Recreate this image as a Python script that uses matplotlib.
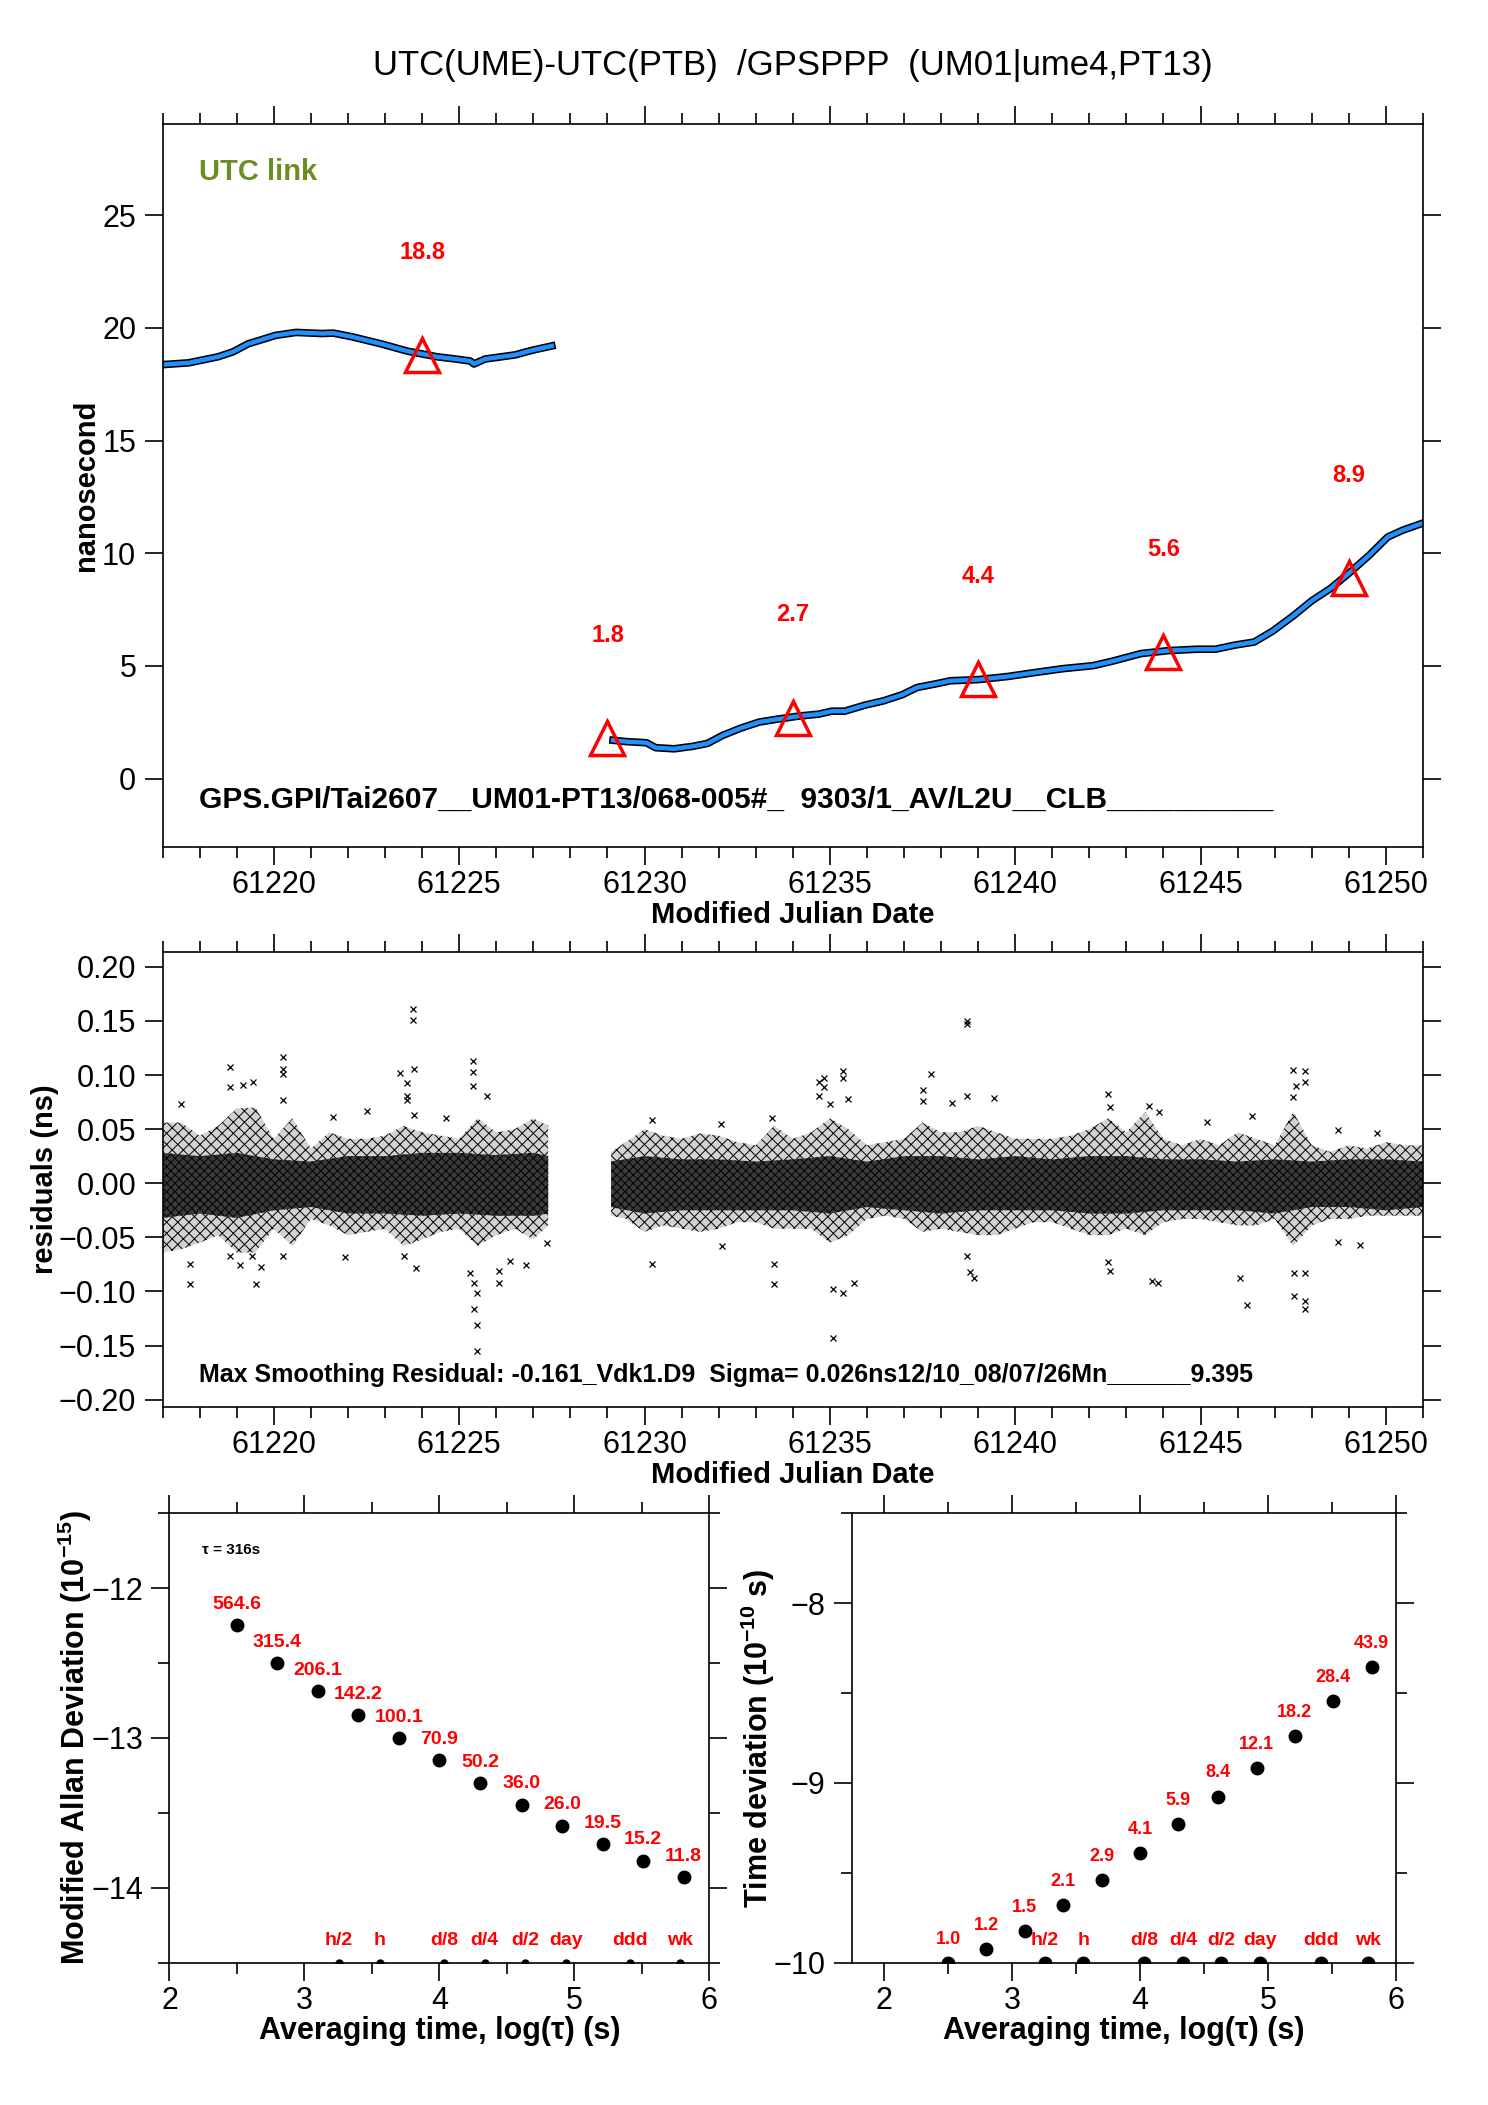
import numpy as np
import matplotlib
matplotlib.use("Agg")
import matplotlib.pyplot as plt
from matplotlib.ticker import MultipleLocator, FuncFormatter

plt.rcParams["font.family"] = ["Liberation Sans", "DejaVu Sans"]
plt.rcParams["mathtext.fontset"] = "custom"
plt.rcParams["mathtext.rm"] = "Liberation Sans"
plt.rcParams["mathtext.bf"] = "Liberation Sans:bold"
plt.rcParams["hatch.linewidth"] = 0.7

# --- top panel: UTC(UME)-UTC(PTB), ns
seg1_mjd = [61217.0, 61217.7, 61218.5, 61218.9, 61219.3, 61220.05, 61220.6, 61221.3, 61221.6,
            61222.1, 61222.9, 61223.6, 61224.4, 61224.9, 61225.3, 61225.4, 61225.7, 61226.5,
            61227.0, 61227.5]
seg1_ns = [18.37, 18.45, 18.72, 18.94, 19.29, 19.67, 19.80, 19.75, 19.77, 19.61, 19.29, 18.97,
           18.72, 18.62, 18.53, 18.40, 18.62, 18.80, 19.02, 19.20]
seg2_mjd = [61229.15, 61229.5, 61230.05, 61230.3, 61230.8, 61231.3, 61231.7, 61232.1, 61232.6,
            61233.1, 61233.6, 61234.15, 61234.7, 61235.05, 61235.4, 61235.95, 61236.45, 61236.95,
            61237.35, 61237.85, 61238.25, 61239.0, 61239.8, 61240.55, 61241.3, 61242.1, 61242.6,
            61243.4, 61244.15, 61244.9, 61245.4, 61245.95, 61246.45, 61246.95, 61247.5, 61248.0,
            61248.5, 61249.0, 61249.55, 61250.05, 61250.45, 61251.0]
seg2_ns = [1.70, 1.64, 1.59, 1.37, 1.32, 1.43, 1.56, 1.91, 2.24, 2.51, 2.64, 2.77, 2.86, 2.99,
           2.99, 3.26, 3.45, 3.72, 4.04, 4.20, 4.34, 4.39, 4.53, 4.71, 4.88, 5.01, 5.20, 5.55,
           5.68, 5.74, 5.74, 5.93, 6.06, 6.55, 7.22, 7.89, 8.43, 9.11, 9.91, 10.72, 11.02, 11.34]
tri_mjd = [61224, 61229, 61234, 61239, 61244, 61249]
tri_ns = [18.8, 1.8, 2.7, 4.4, 5.6, 8.9]

# --- middle panel: residuals (ns), envelope of the dense cloud + outlying points
res1_x = [61217.0, 61217.5, 61218.0, 61218.5, 61219.0, 61219.5, 61220.0, 61220.5, 61221.0,
          61221.5, 61222.0, 61222.5, 61223.0, 61223.5, 61224.0, 61224.5, 61225.0, 61225.5,
          61226.0, 61226.5, 61227.0, 61227.4]
res1_hi = [0.056, 0.056, 0.044, 0.053, 0.069, 0.070, 0.041, 0.060, 0.032, 0.047, 0.041, 0.041,
           0.044, 0.053, 0.047, 0.044, 0.041, 0.060, 0.047, 0.050, 0.060, 0.053]
res1_lo = [-0.064, -0.061, -0.055, -0.048, -0.064, -0.064, -0.042, -0.058, -0.033, -0.039,
           -0.048, -0.045, -0.042, -0.058, -0.052, -0.045, -0.042, -0.058, -0.048, -0.042,
           -0.052, -0.039]
res2_x = [61229.1, 61229.5, 61230.0, 61230.5, 61231.0, 61231.5, 61232.0, 61232.5, 61233.0,
          61233.5, 61234.0, 61234.5, 61235.0, 61235.5, 61236.0, 61236.5, 61237.0, 61237.5,
          61238.0, 61238.5, 61239.0, 61239.5, 61240.0, 61240.5, 61241.0, 61241.5, 61242.0,
          61242.5, 61243.0, 61243.5, 61244.0, 61244.5, 61245.0, 61245.5, 61246.0, 61246.5,
          61247.0, 61247.5, 61248.0, 61248.5, 61249.0, 61249.5, 61250.0, 61250.5, 61251.0]
res2_hi = [0.029, 0.038, 0.050, 0.044, 0.041, 0.046, 0.044, 0.038, 0.035, 0.053, 0.041, 0.047,
           0.060, 0.050, 0.035, 0.038, 0.041, 0.056, 0.047, 0.047, 0.053, 0.047, 0.041, 0.041,
           0.041, 0.044, 0.050, 0.060, 0.047, 0.066, 0.041, 0.035, 0.041, 0.035, 0.047, 0.041,
           0.035, 0.066, 0.035, 0.029, 0.035, 0.032, 0.038, 0.035, 0.035]
res2_lo = [-0.030, -0.033, -0.045, -0.039, -0.042, -0.045, -0.042, -0.036, -0.036, -0.042,
           -0.042, -0.042, -0.055, -0.048, -0.033, -0.030, -0.033, -0.045, -0.042, -0.045,
           -0.048, -0.048, -0.042, -0.036, -0.036, -0.042, -0.048, -0.048, -0.042, -0.048,
           -0.036, -0.033, -0.033, -0.036, -0.039, -0.039, -0.033, -0.058, -0.039, -0.033,
           -0.033, -0.030, -0.030, -0.030, -0.030]
core1_x = [61217.0, 61218.0, 61219.0, 61220.0, 61221.0, 61222.0, 61223.0, 61224.0, 61225.0,
           61226.0, 61227.0, 61227.4]
core1_hi = [0.028, 0.025, 0.028, 0.022, 0.020, 0.025, 0.025, 0.028, 0.028, 0.026, 0.028, 0.025]
core1_lo = [-0.032, -0.028, -0.032, -0.025, -0.022, -0.028, -0.028, -0.030, -0.028, -0.030,
            -0.030, -0.028]
core2_x = [61229.1, 61230, 61231, 61232, 61233, 61234, 61235, 61236, 61237, 61238, 61239, 61240,
           61241, 61242, 61243, 61244, 61245, 61246, 61247, 61248, 61249, 61250, 61251]
core2_hi = [0.020, 0.025, 0.022, 0.022, 0.020, 0.022, 0.025, 0.020, 0.025, 0.025, 0.022, 0.025,
            0.022, 0.025, 0.025, 0.022, 0.022, 0.020, 0.022, 0.020, 0.022, 0.022, 0.020]
core2_lo = [-0.022, -0.028, -0.025, -0.025, -0.025, -0.025, -0.028, -0.022, -0.025, -0.028,
            -0.025, -0.025, -0.025, -0.028, -0.028, -0.025, -0.025, -0.025, -0.028, -0.022,
            -0.022, -0.025, -0.022]
out_x = [61223.75, 61223.75, 61220.25, 61220.25, 61220.25, 61218.83, 61218.83, 61219.17, 61219.45,
         61217.49, 61223.39, 61223.77, 61223.6, 61223.6, 61223.6, 61225.36, 61225.36, 61225.38,
         61225.75, 61220.25, 61222.52, 61224.64, 61223.77, 61221.6,
         61217.75, 61219.53, 61219.09, 61219.65, 61217.75, 61225.39, 61225.49, 61225.49, 61225.49,
         61225.39, 61225.3, 61226.07, 61226.07, 61226.38, 61226.8, 61223.83, 61223.5, 61221.92,
         61220.25, 61218.83, 61219.4, 61227.38,
         61230.2, 61233.5, 61233.5, 61232.1, 61230.2, 61232.05, 61233.45, 61234.72, 61234.72,
         61235.08, 61235.08, 61235.36, 61235.65, 61234.85, 61234.85, 61235.36, 61235.36, 61235.48,
         61235.0, 61238.69, 61238.69, 61237.72, 61237.5, 61237.5, 61238.69, 61239.43, 61238.3,
         61238.77, 61238.88, 61238.69, 61242.49, 61242.55, 61243.6, 61243.88, 61242.57, 61242.49,
         61243.68, 61243.85, 61246.07, 61246.26, 61245.18, 61246.4, 61247.49, 61247.82, 61247.57,
         61247.82, 61247.49, 61247.53, 61247.82, 61247.82, 61247.53, 61247.82, 61248.7, 61249.3,
         61248.7, 61249.75]
out_v = [0.161, 0.151, 0.117, 0.106, 0.101, 0.107, 0.089, 0.091, 0.094,
         0.073, 0.102, 0.106, 0.093, 0.081, 0.077, 0.113, 0.103, 0.090,
         0.081, 0.077, 0.067, 0.060, 0.063, 0.061,
         -0.093, -0.093, -0.076, -0.077, -0.075, -0.116, -0.131, -0.155, -0.101,
         -0.092, -0.083, -0.092, -0.081, -0.072, -0.076, -0.078, -0.067, -0.068,
         -0.067, -0.067, -0.067, -0.055,
         -0.075, -0.093, -0.075, -0.058, 0.058, 0.055, 0.060, 0.094, 0.081,
         -0.1435, -0.098, -0.101, -0.092, 0.097, 0.089, 0.104, 0.097, 0.078,
         0.073, 0.1475, 0.150, 0.101, 0.086, 0.076, 0.081, 0.079, 0.074,
         -0.082, -0.088, -0.067, 0.082, 0.070, 0.071, 0.066, -0.081, -0.073,
         -0.090, -0.092, -0.088, -0.113, 0.057, 0.062, 0.105, 0.104, 0.090,
         0.094, 0.080, -0.104, -0.116, -0.109, -0.083, -0.083, -0.054, -0.057,
         0.049, 0.046]

# --- bottom panels: stability, log10(tau) in s
log_tau = [2.50, 2.80, 3.10, 3.40, 3.70, 4.00, 4.30, 4.61, 4.91, 5.21, 5.51, 5.81]
mdev_1e15 = [564.6, 315.4, 206.1, 142.2, 100.1, 70.9, 50.2, 36.0, 26.0, 19.5, 15.2, 11.8]
tdev_1e10 = [1.0, 1.2, 1.5, 2.1, 2.9, 4.1, 5.9, 8.4, 12.1, 18.2, 28.4, 43.9]
mark_names = ["h/2", "h", "d/8", "d/4", "d/2", "day", "ddd", "wk"]
mark_tau_s = [1800, 3600, 10800, 21600, 43200, 86400, 259200, 604800]

RED = "red"
fig = plt.figure(figsize=(14.88, 21.05), dpi=100)
ax1 = fig.add_axes([0.1093, 0.5976, 0.8470, 0.3436])
ax2 = fig.add_axes([0.1093, 0.3316, 0.8470, 0.2161])
ax3 = fig.add_axes([0.1139, 0.0675, 0.3628, 0.2137])
ax4 = fig.add_axes([0.5726, 0.0675, 0.3656, 0.2137])


def style(ax):
    for s in ax.spines.values():
        s.set_linewidth(1.2)
    ax.tick_params(which="both", direction="out", top=True, right=True, width=1.2,
                   labelsize=22, pad=6)
    ax.tick_params(axis="x", which="both", pad=3.5)
    ax.tick_params(which="major", length=13)
    ax.tick_params(which="minor", length=8)


minus = FuncFormatter(lambda v, p: ("%.2f" % v).replace("-", "\u2212") if abs(v) > 1e-9 else "0.00")

# top
for xs, ys in [(seg1_mjd, seg1_ns), (seg2_mjd, seg2_ns)]:
    ax1.plot(xs, ys, color="black", lw=5.5)
    ax1.plot(xs, ys, color="#1e90ff", lw=3.2)
ax1.plot(tri_mjd, tri_ns, "^", ms=25, mfc="none", mec=RED, mew=2.5)
for x, v in zip(tri_mjd, tri_ns):
    ax1.annotate(f"{v:.1f}", (x, v), xytext=(0, 74), textcoords="offset points",
                 ha="center", va="center", color=RED, fontsize=17, fontweight="bold")
ax1.set_xlim(61217, 61251)
ax1.set_ylim(-3.04, 29.06)
ax1.xaxis.set_major_locator(MultipleLocator(5))
ax1.xaxis.set_minor_locator(MultipleLocator(1))
ax1.yaxis.set_major_locator(MultipleLocator(5))
style(ax1)
ax1.set_ylabel("nanosecond", fontsize=21, fontweight="bold")
ax1.yaxis.set_label_coords(-0.050, 0.5)
ax1.set_xlabel("Modified Julian Date", fontsize=21, fontweight="bold")
ax1.xaxis.set_label_coords(0.5, -0.075)
ax1.text(0.029, 0.934, "UTC link", transform=ax1.transAxes, color="#6b8e23",
         fontsize=21, fontweight="bold", va="center")
ax1.text(0.029, 0.065, "GPS.GPI/Tai2607__UM01-PT13/068-005#_  9303/1_AV/L2U__CLB__________",
         transform=ax1.transAxes, fontsize=21.5, fontweight="bold", va="center")
fig.text(0.5328, 0.969, "UTC(UME)-UTC(PTB)  /GPSPPP  (UM01|ume4,PT13)", ha="center",
         va="center", fontsize=25)

# middle
for xs, lo, hi in [(res1_x, res1_lo, res1_hi), (res2_x, res2_lo, res2_hi)]:
    ax2.fill_between(xs, lo, hi, facecolor="#d2d2d2", edgecolor="black", hatch="xxx", linewidth=0)
for xs, lo, hi in [(core1_x, core1_lo, core1_hi), (core2_x, core2_lo, core2_hi)]:
    ax2.fill_between(xs, lo, hi, facecolor="#3a3a3a", edgecolor="black", hatch="xxxx", linewidth=0)
ax2.plot(out_x, out_v, "x", color="black", ms=4.5, mew=0.9)
ax2.set_xlim(61217, 61251)
ax2.set_ylim(-0.2068, 0.2136)
ax2.xaxis.set_major_locator(MultipleLocator(5))
ax2.xaxis.set_minor_locator(MultipleLocator(1))
ax2.yaxis.set_major_locator(MultipleLocator(0.05))
ax2.yaxis.set_major_formatter(minus)
style(ax2)
ax2.set_ylabel("residuals (ns)", fontsize=21, fontweight="bold")
ax2.yaxis.set_label_coords(-0.082, 0.5)
ax2.set_xlabel("Modified Julian Date", fontsize=21, fontweight="bold")
ax2.xaxis.set_label_coords(0.5, -0.118)
ax2.text(0.029, 0.071, "Max Smoothing Residual: -0.161_Vdk1.D9  Sigma= 0.026ns12/10_08/07/26Mn______9.395",
         transform=ax2.transAxes, fontsize=18, fontweight="bold", va="center")

# bottom left: modified Allan deviation
mdev_y = np.log10(np.array(mdev_1e15) * 1e-15)
tdev_y = np.log10(np.array(tdev_1e10) * 1e-10)
mark_x = np.log10(mark_tau_s)

ax3.plot(log_tau, mdev_y, "o", color="black", ms=9)
for x, y, v in zip(log_tau, mdev_y, mdev_1e15):
    ax3.annotate(f"{v:.1f}", (x, y), xytext=(0, 15), textcoords="offset points",
                 ha="center", va="center", color=RED, fontsize=14, fontweight="bold")
ax3.set_xlim(2, 6)
ax3.set_ylim(-14.5, -11.5)
ax3.plot(mark_x, [-14.5] * len(mark_x), "o", color="black", ms=5)
for x, name in zip(mark_x, mark_names):
    ax3.annotate(name, (x, -14.5), xytext=(0, 16), textcoords="offset points",
                 ha="center", va="center", color=RED, fontsize=14, fontweight="bold")
ax3.text(0.06, 0.918, "\u03c4 = 316s", transform=ax3.transAxes, fontsize=11,
         fontweight="bold", va="center")
ax3.set_ylabel(r"Modified Allan Deviation (10$^{\mathbf{-15}}$)", fontsize=22, fontweight="bold")
ax3.yaxis.set_label_coords(-0.140, 0.5)

# bottom right: time deviation
ax4.plot(log_tau, tdev_y, "o", color="black", ms=9)
for x, y, v in zip(log_tau, tdev_y, tdev_1e10):
    ax4.annotate(f"{v:.1f}", (x, y), xytext=(0, 17), textcoords="offset points",
                 ha="center", va="center", color=RED, fontsize=13, fontweight="bold")
ax4.set_xlim(1.75, 6)
ax4.set_ylim(-10, -7.5)
ax4.plot(mark_x, [-10] * len(mark_x), "o", color="black", ms=9)
for x, name in zip(mark_x, mark_names):
    ax4.annotate(name, (x, -10), xytext=(0, 16), textcoords="offset points",
                 ha="center", va="center", color=RED, fontsize=14, fontweight="bold")
ax4.set_ylabel(r"Time deviation (10$^{\mathbf{-10}}$ s)", fontsize=22, fontweight="bold")
ax4.yaxis.set_label_coords(-0.138, 0.5)

for ax in (ax3, ax4):
    ax.xaxis.set_major_locator(MultipleLocator(1))
    ax.xaxis.set_minor_locator(MultipleLocator(0.5))
    ax.yaxis.set_major_locator(MultipleLocator(1))
    ax.yaxis.set_minor_locator(MultipleLocator(0.5))
    style(ax)
    ax.set_xlabel("Averaging time, log(\u03c4) (s)", fontsize=22, fontweight="bold")
    ax.xaxis.set_label_coords(0.5, -0.118)

fig.savefig("out.png", dpi=100)
